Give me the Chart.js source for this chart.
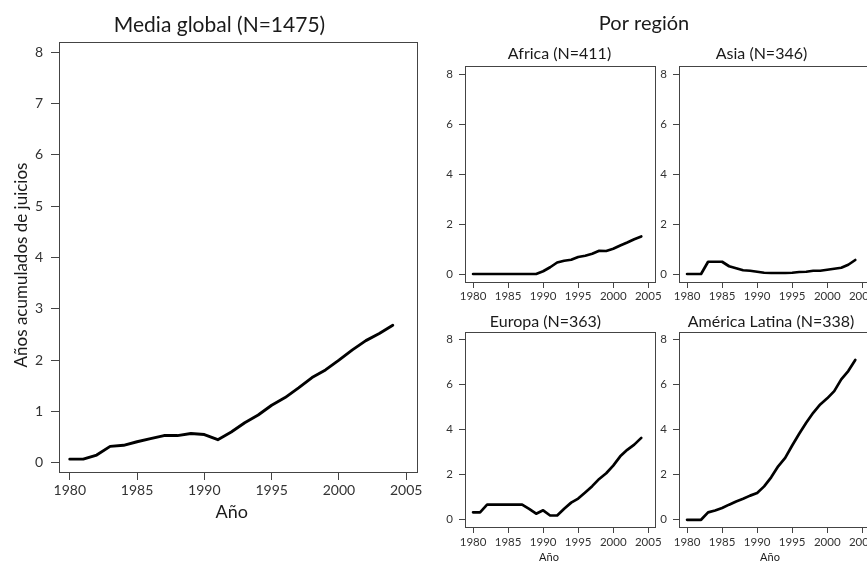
<!DOCTYPE html>
<html>
<head>
<meta charset="utf-8">
<script src="https://cdn.jsdelivr.net/npm/chart.js@4.4.1/dist/chart.umd.min.js"></script>
<style>
  html, body { margin: 0; padding: 0; background: #fff; overflow: hidden; }
  #wrap { position: relative; width: 867px; height: 562px; overflow: hidden; }
  canvas { position: absolute; left: 0; top: 0; }
</style>
</head>
<body>
<div id="wrap">
  <canvas id="c-global" width="900" height="580"></canvas>
  <canvas id="c-africa" width="900" height="580"></canvas>
  <canvas id="c-asia" width="900" height="580"></canvas>
  <canvas id="c-europa" width="900" height="580"></canvas>
  <canvas id="c-latina" width="900" height="580"></canvas>
</div>
<script>
// datos
const years = [1980, 1981, 1982, 1983, 1984, 1985, 1986, 1987, 1988, 1989, 1990, 1991, 1992,
               1993, 1994, 1995, 1996, 1997, 1998, 1999, 2000, 2001, 2002, 2003, 2004];
const globalMean = [0.07, 0.07, 0.15, 0.32, 0.34, 0.41, 0.47, 0.53, 0.53, 0.57, 0.55, 0.45, 0.60,
                    0.78, 0.93, 1.12, 1.27, 1.46, 1.66, 1.81, 2.00, 2.20, 2.38, 2.52, 2.68];
const africa = [0, 0, 0, 0, 0, 0, 0, 0, 0, 0, 0.11, 0.27, 0.46,
                0.53, 0.57, 0.68, 0.73, 0.81, 0.93, 0.92, 1.01, 1.14, 1.26, 1.39, 1.50];
const asia = [0, 0, 0, 0.49, 0.49, 0.49, 0.31, 0.23, 0.15, 0.13, 0.09, 0.05, 0.04,
              0.04, 0.04, 0.05, 0.08, 0.09, 0.13, 0.13, 0.17, 0.21, 0.25, 0.37, 0.56];
const europa = [0.33, 0.33, 0.67, 0.67, 0.67, 0.67, 0.67, 0.67, 0.48, 0.27, 0.42, 0.19, 0.19,
                0.49, 0.76, 0.94, 1.21, 1.49, 1.81, 2.06, 2.40, 2.81, 3.10, 3.33, 3.63];
const latina = [0, 0, 0, 0.33, 0.41, 0.52, 0.67, 0.81, 0.93, 1.07, 1.19, 1.48, 1.88,
                2.37, 2.74, 3.29, 3.81, 4.30, 4.74, 5.11, 5.38, 5.70, 6.22, 6.59, 7.08];

const xTicks = [1980, 1985, 1990, 1995, 2000, 2005];
const yTicksGlobal = [0, 1, 2, 3, 4, 5, 6, 7, 8];
const yTicksRegion = [0, 2, 4, 6, 8];

const FONT = 'Lato, "Open Sans", sans-serif';

// caja alrededor del area de datos (estilo R)
const framePlugin = {
  id: 'frame',
  afterDraw(chart) {
    const { ctx, chartArea: a } = chart;
    ctx.save();
    ctx.strokeStyle = '#444';
    ctx.lineWidth = 1;
    ctx.strokeRect(Math.round(a.left) + 0.5, Math.round(a.top) + 0.5,
                   Math.round(a.right - a.left), Math.round(a.bottom - a.top));
    ctx.restore();
  }
};

// titulos y etiquetas de ejes en su posicion
const textPlugin = {
  id: 'panelText',
  afterDraw(chart, args, opts) {
    const ctx = chart.ctx;
    (opts.items || []).forEach(t => {
      ctx.save();
      ctx.font = t.size + 'px ' + FONT;
      ctx.fillStyle = '#1a1a1a';
      ctx.textAlign = 'center';
      ctx.textBaseline = 'alphabetic';
      ctx.translate(t.x, t.y);
      if (t.rotate) ctx.rotate(-Math.PI / 2);
      ctx.fillText(t.text, 0, 0);
      ctx.restore();
    });
  }
};

function panel(id, values, area, opt) {
  const yw = 40, xh = 30;
  new Chart(document.getElementById(id), {
    type: 'line',
    data: {
      datasets: [{
        data: years.map((yr, i) => ({ x: yr, y: values[i] })),
        borderColor: '#000',
        borderWidth: opt.lw,
        borderJoinStyle: 'round',
        borderCapStyle: 'round',
        pointRadius: 0,
        tension: 0,
        fill: false
      }]
    },
    options: {
      responsive: false,
      animation: false,
      events: [],
      layout: {
        padding: {
          left: area.left - yw,
          top: area.top,
          right: 900 - area.right,
          bottom: 580 - area.bottom - xh
        }
      },
      plugins: {
        legend: { display: false },
        tooltip: { enabled: false },
        panelText: { items: opt.texts }
      },
      scales: {
        x: {
          type: 'linear',
          min: opt.xmin,
          max: opt.xmax,
          afterFit: s => { s.height = xh; },
          afterBuildTicks: s => { s.ticks = xTicks.map(v => ({ value: v })); },
          grid: { drawOnChartArea: false, tickLength: opt.tick, color: '#444' },
          border: { display: false },
          ticks: {
            font: { family: FONT, size: opt.fs },
            color: '#333',
            padding: opt.xpad,
            maxRotation: 0,
            autoSkip: false,
            callback: v => String(v)
          }
        },
        y: {
          min: opt.ymin,
          max: opt.ymax,
          afterFit: s => { s.width = yw; },
          afterBuildTicks: s => { s.ticks = opt.yTicks.map(v => ({ value: v })); },
          grid: { drawOnChartArea: false, tickLength: opt.tick, color: '#444' },
          border: { display: false },
          ticks: {
            font: { family: FONT, size: opt.fs },
            color: '#333',
            padding: opt.ypad,
            callback: v => String(v)
          }
        }
      }
    },
    plugins: [framePlugin, textPlugin]
  });
}

const region = { xmin: 1978.85, xmax: 2005.96, ymin: -0.32, ymax: 8.32, yTicks: yTicksRegion,
                 lw: 2.7, tick: 6, fs: 11.5, xpad: 1, ypad: 6 };

panel('c-global', globalMean, { left: 59, top: 42, right: 417, bottom: 472 }, {
  xmin: 1979.2, xmax: 2005.8, ymin: -0.18, ymax: 8.2, yTicks: yTicksGlobal,
  lw: 2.9, tick: 8, fs: 14, xpad: 2, ypad: 8,
  texts: [
    { text: 'Media global (N=1475)', x: 219.5, y: 31.7, size: 21 },
    { text: 'Año', x: 231.7, y: 518, size: 18 },
    { text: 'Años acumulados de juicios', x: 26.7, y: 265, size: 17 }
  ].map(t => t.text.startsWith('Años') ? Object.assign(t, { rotate: true }) : t)
});

panel('c-africa', africa, { left: 465, top: 66, right: 655, bottom: 282 }, Object.assign({}, region, {
  texts: [
    { text: 'Por región', x: 644, y: 30, size: 20 },
    { text: 'Africa (N=411)', x: 559.5, y: 59.3, size: 16 }
  ]
}));

panel('c-asia', asia, { left: 679, top: 66, right: 869, bottom: 282 }, Object.assign({}, region, {
  texts: [{ text: 'Asia (N=346)', x: 761.5, y: 59.3, size: 16 }]
}));

panel('c-europa', europa, { left: 465, top: 332, right: 655, bottom: 527 }, Object.assign({}, region, {
  xpad: 2,
  texts: [
    { text: 'Europa (N=363)', x: 545.5, y: 326.7, size: 16 },
    { text: 'Año', x: 549, y: 561, size: 11 }
  ]
}));

panel('c-latina', latina, { left: 679, top: 332, right: 869, bottom: 527 }, Object.assign({}, region, {
  xpad: 2,
  texts: [
    { text: 'América Latina (N=338)', x: 771, y: 326.7, size: 16 },
    { text: 'Año', x: 770, y: 561, size: 11 }
  ]
}));
</script>
</body>
</html>
